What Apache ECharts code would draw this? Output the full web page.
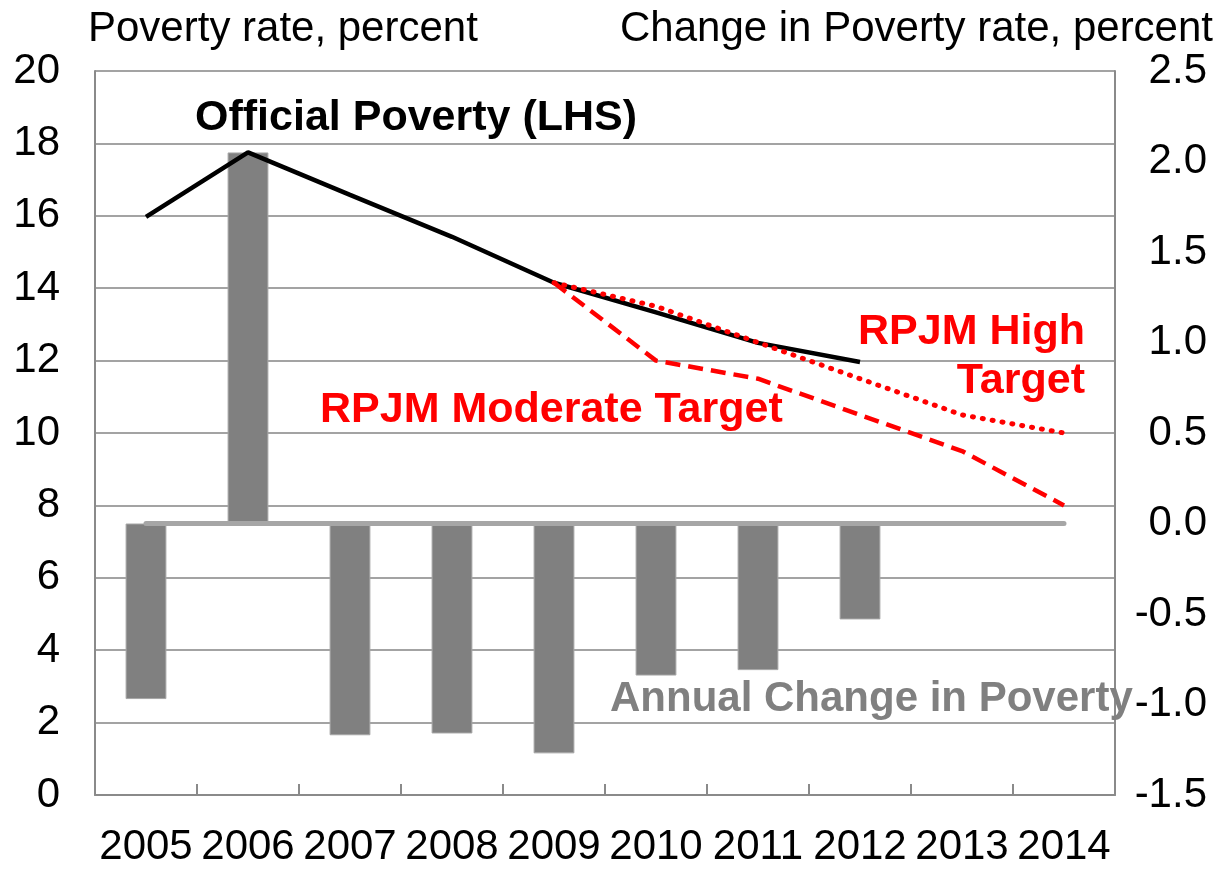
<!DOCTYPE html>
<html>
<head>
<meta charset="utf-8">
<title>Poverty rate and RPJM targets</title>
<script src="https://cdn.jsdelivr.net/npm/echarts@6/dist/echarts.min.js"></script>
<style>
  html, body { margin: 0; padding: 0; background: #ffffff; }
  #chart { width: 1226px; height: 874px; }
</style>
</head>
<body>
<div id="chart"></div>
<script>
// Years on the category axis
const years = ['2005', '2006', '2007', '2008', '2009', '2010', '2011', '2012', '2013', '2014'];

// Official poverty rate, percent (left axis)
const officialPoverty = [15.97, 17.75, 16.58, 15.42, 14.15, 13.33, 12.49, 11.96, null, null];

// RPJM targets, percent (left axis)
const rpjmHighTarget = [null, null, null, null, 14.15, 13.5, 12.5, 11.5, 10.5, 10.0];
const rpjmModerateTarget = [null, null, null, null, 14.15, 12.0, 11.5, 10.5, 9.5, 8.0];

// Annual change in poverty rate, percentage points (right axis)
const annualChange = [-0.97, 2.05, -1.17, -1.16, -1.27, -0.84, -0.81, -0.53, null, null];

// Zero reference for the change bars (right axis)
const zeroLine = [0, 0, 0, 0, 0, 0, 0, 0, 0, 0];

// Axis scales
const leftAxis = { min: 0, max: 20, interval: 2 };
const rightAxis = { min: -1.5, max: 2.5, interval: 0.5 };

const FONT = '"Liberation Sans", Arial, Helvetica, sans-serif';
const AXIS_GRAY = '#8a8a8a';
const GRID_GRAY = '#a3a3a3';

const chart = echarts.init(document.getElementById('chart'), null, { renderer: 'canvas' });

const option = {
  animation: false,
  backgroundColor: '#ffffff',
  textStyle: { fontFamily: FONT },
  grid: { left: 95, right: 111, top: 71, bottom: 79, containLabel: false },
  xAxis: {
    type: 'category',
    data: years,
    boundaryGap: true,
    axisLine: { show: true, lineStyle: { color: AXIS_GRAY, width: 2 } },
    axisTick: { show: true, inside: true, length: 11, alignWithLabel: false, lineStyle: { color: AXIS_GRAY, width: 2 } },
    axisLabel: { color: '#000', fontSize: 42, fontFamily: FONT, margin: 31, interval: 0 },
    splitLine: { show: false }
  },
  yAxis: [
    {
      type: 'value',
      min: leftAxis.min, max: leftAxis.max, interval: leftAxis.interval,
      axisLine: { show: true, lineStyle: { color: AXIS_GRAY, width: 2 } },
      axisTick: { show: false },
      axisLabel: { color: '#000', fontSize: 42, fontFamily: FONT, margin: 35 },
      splitLine: { show: true, lineStyle: { color: GRID_GRAY, width: 2 } }
    },
    {
      type: 'value',
      position: 'right',
      min: rightAxis.min, max: rightAxis.max, interval: rightAxis.interval,
      axisLine: { show: true, lineStyle: { color: AXIS_GRAY, width: 2 } },
      axisTick: { show: false },
      axisLabel: {
        color: '#000', fontSize: 42, fontFamily: FONT, margin: 92, align: 'right',
        formatter: v => v.toFixed(1)
      },
      splitLine: { show: false }
    }
  ],
  series: [
    {
      name: 'Annual Change in Poverty',
      type: 'bar',
      yAxisIndex: 1,
      data: annualChange,
      barWidth: '40%',
      itemStyle: { color: '#808080', borderColor: '#a6a6a6', borderWidth: 1 },
      z: 2
    },
    {
      name: 'Zero',
      type: 'line',
      yAxisIndex: 1,
      data: zeroLine,
      showSymbol: false,
      lineStyle: { color: '#a6a6a6', width: 5, cap: 'round' },
      z: 3
    },
    {
      name: 'Official Poverty (LHS)',
      type: 'line',
      yAxisIndex: 0,
      data: officialPoverty,
      showSymbol: false,
      connectNulls: false,
      lineStyle: { color: '#000000', width: 4.5 },
      z: 5
    },
    {
      name: 'RPJM High Target',
      type: 'line',
      yAxisIndex: 0,
      data: rpjmHighTarget,
      showSymbol: false,
      lineStyle: { color: '#ff0000', width: 5, type: [1, 9], cap: 'round' },
      z: 6
    },
    {
      name: 'RPJM Moderate Target',
      type: 'line',
      yAxisIndex: 0,
      data: rpjmModerateTarget,
      showSymbol: false,
      lineStyle: { color: '#ff0000', width: 4.5, type: [15, 8] },
      z: 6
    }
  ],
  graphic: [
    { type: 'text', left: 88, top: 8, style: { text: 'Poverty rate, percent', font: '42px ' + FONT, fill: '#000' } },
    { type: 'text', right: 13, top: 8, style: { text: 'Change in Poverty rate, percent', font: '42px ' + FONT, fill: '#000' } },
    { type: 'text', left: 195, top: 97, z: 10, style: { text: 'Official Poverty (LHS)', font: 'bold 43px ' + FONT, fill: '#000' } },
    { type: 'text', right: 141, top: 311, z: 10, style: { text: 'RPJM High', font: 'bold 43px ' + FONT, fill: '#ff0000' } },
    { type: 'text', right: 141, top: 360, z: 10, style: { text: 'Target', font: 'bold 43px ' + FONT, fill: '#ff0000' } },
    { type: 'text', left: 320, top: 389, z: 10, style: { text: 'RPJM Moderate Target', font: 'bold 43px ' + FONT, fill: '#ff0000' } },
    { type: 'text', left: 610, top: 678, z: 10, style: { text: 'Annual Change in Poverty', font: 'bold 42px ' + FONT, fill: '#808080' } }
  ]
};

chart.setOption(option);
</script>
</body>
</html>
